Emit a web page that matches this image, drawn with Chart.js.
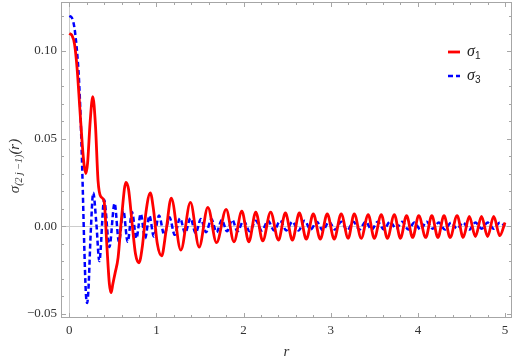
<!DOCTYPE html>
<html lang="en">
<head>
  <meta charset="UTF-8">
  <title>sigma (2j-1) plot</title>
  <script src="https://cdn.jsdelivr.net/npm/chart.js"></script>
  <style>body { margin: 0; background: #fff; }</style>
</head>
<body>
  <canvas id="myChart" width="515" height="361"></canvas>

  <script>
    // sigma_1 (red, solid)
    const r1 = [0, 0.03, 0.06, 0.09, 0.12, 0.15, 0.17, 0.19, 0.21, 0.24, 0.27, 0.30, 0.33, 0.36, 0.40,
      0.43, 0.46, 0.48, 0.50, 0.525, 0.56, 0.60, 0.65, 0.68, 0.72, 0.76, 0.80, 0.84, 0.88, 0.93,
      0.97, 1.01, 1.06, 1.11, 1.17, 1.28, 1.39, 1.49, 1.59, 1.69, 1.80, 1.89, 1.98, 2.06, 2.14,
      2.22, 2.31, 2.40, 2.48, 2.56, 2.64, 2.72, 2.80, 2.88, 2.96, 3.04, 3.12, 3.20, 3.27, 3.35,
      3.43, 3.50, 3.58, 3.65, 3.73, 3.80, 3.87, 3.94, 4.01, 4.09, 4.16, 4.23, 4.30, 4.37, 4.45,
      4.52, 4.59, 4.66, 4.73, 4.80, 4.87, 4.94, 5.00];
    const s1 = [0.110, 0.109, 0.104, 0.090, 0.068, 0.046, 0.035, 0.030, 0.036, 0.060, 0.074, 0.058, 0.026, 0.017, 0.014,
      -0.010, -0.033, -0.038, -0.033, -0.027, -0.018, 0.005, 0.025, 0.021, 0.002, -0.016, -0.021, -0.011, 0.008, 0.019,
      0.008, -0.010, -0.017, -0.003, 0.016, -0.0137, 0.0135, -0.012, 0.0107, -0.0095, 0.0095, -0.009, 0.0085, -0.009, 0.008,
      -0.0085, 0.008, -0.008, 0.0075, -0.008, 0.0075, -0.0075, 0.007, -0.0075, 0.007, -0.0075, 0.007, -0.007, 0.007, -0.007,
      0.0065, -0.007, 0.0065, -0.007, 0.0065, -0.007, 0.006, -0.0065, 0.006, -0.0065, 0.006, -0.0065, 0.006, -0.0065, 0.006,
      -0.0065, 0.0055, -0.006, 0.0055, -0.006, 0.0055, -0.0055, 0.002];

    // sigma_3 (blue, dashed)
    const r3 = [0, 0.03, 0.06, 0.09, 0.11, 0.13, 0.15, 0.17, 0.19, 0.205, 0.22, 0.245, 0.275, 0.31, 0.345,
      0.40, 0.46, 0.52, 0.57, 0.62, 0.67, 0.72, 0.77, 0.82, 0.87, 0.92, 0.97, 1.03, 1.09, 1.15,
      1.21, 1.27, 1.33, 1.39, 1.45, 1.51, 1.57, 1.63, 1.69, 1.75, 1.81, 1.87, 1.93, 2.00, 2.07,
      2.14, 2.21, 2.28, 2.35, 2.42, 2.49, 2.56, 2.63, 2.70, 2.77, 2.84, 2.91, 2.98, 3.05, 3.12,
      3.19, 3.26, 3.33, 3.40, 3.47, 3.54, 3.61, 3.68, 3.75, 3.82, 3.89, 3.96, 4.03, 4.10, 4.17,
      4.24, 4.31, 4.38, 4.45, 4.52, 4.59, 4.66, 4.73, 4.80, 4.87, 4.94, 5.00];
    const s3 = [0.120, 0.119, 0.113, 0.099, 0.085, 0.062, 0.030, -0.008, -0.038, -0.044, -0.036, -0.005, 0.019, 0.002, -0.020,
      0.015, -0.012, 0.013, -0.009, 0.009, -0.009, 0.008, -0.007, 0.007, -0.007, 0.006, -0.006, 0.006, -0.005, 0.005,
      -0.005, 0.0045, -0.004, 0.0045, -0.004, 0.004, -0.0035, 0.004, -0.0035, 0.0035, -0.003, 0.0035, -0.003, 0.003, -0.003,
      0.003, -0.0025, 0.003, -0.0025, 0.003, -0.0025, 0.0025, -0.0025, 0.003, -0.002, 0.0025, -0.0025, 0.0025, -0.002, 0.0025,
      -0.0025, 0.0025, -0.002, 0.0025, -0.002, 0.0025, -0.002, 0.0025, -0.0015, 0.0025, -0.002, 0.002, -0.002, 0.0025, -0.0015,
      0.002, -0.002, 0.002, -0.0015, 0.002, -0.002, 0.002, -0.0015, 0.002, -0.0015, 0.002, 0.000];

    const xTicks = [0, 1, 2, 3, 4, 5];
    const yTicks = [-0.05, 0, 0.05, 0.10];
    const seriesLabels = ['1', '3'];   // subscripts of sigma

    const frameColor = '#a6a6a6';
    const serif = '"Liberation Serif", "DejaVu Serif", serif';

    // minor tick positions (0.2 on x, 0.01 on y)
    const xMinor = [];
    for (let i = 0; i <= 25; i++) xMinor.push(i * 0.2);
    const yMinor = [];
    for (let i = -5; i <= 12; i++) yMinor.push(i * 0.01);

    const toPoints = (xs, ys) => xs.map((x, i) => ({ x: x, y: ys[i] }));

    // frame, inside ticks, zero lines, legend and y title (Mathematica look)
    const framePlugin = {
      id: 'frame',
      beforeDatasetsDraw(chart) {
        const { ctx, chartArea: a, scales } = chart;
        ctx.save();
        ctx.strokeStyle = '#cccccc';
        ctx.lineWidth = 1;
        const y0 = Math.round(scales.y.getPixelForValue(0)) + 0.5;
        const x0 = Math.round(scales.x.getPixelForValue(0)) + 0.5;
        ctx.beginPath();
        ctx.moveTo(a.left, y0); ctx.lineTo(a.right, y0);
        ctx.moveTo(x0, a.top); ctx.lineTo(x0, a.bottom);
        ctx.stroke();
        ctx.restore();
      },
      afterDatasetsDraw(chart) {
        const { ctx, chartArea: a, scales } = chart;
        ctx.save();
        ctx.strokeStyle = frameColor;
        ctx.lineWidth = 1;
        ctx.strokeRect(a.left + 0.5, a.top + 0.5, a.right - a.left - 1, a.bottom - a.top - 1);
        ctx.beginPath();
        xMinor.forEach(v => {
          const major = Math.abs(v - Math.round(v)) < 1e-6;
          const len = major ? 5 : 3;
          const px = Math.round(scales.x.getPixelForValue(v)) + 0.5;
          ctx.moveTo(px, a.bottom); ctx.lineTo(px, a.bottom - len);
          ctx.moveTo(px, a.top); ctx.lineTo(px, a.top + len);
        });
        yMinor.forEach(v => {
          const major = Math.abs(v * 20 - Math.round(v * 20)) < 1e-6;
          const len = major ? 5 : 3;
          const py = Math.round(scales.y.getPixelForValue(v)) + 0.5;
          if (py < a.top || py > a.bottom) return;
          ctx.moveTo(a.left, py); ctx.lineTo(a.left + len, py);
          ctx.moveTo(a.right, py); ctx.lineTo(a.right - len, py);
        });
        ctx.stroke();

        // legend
        chart.data.datasets.forEach((ds, i) => {
          const ly = 52 + i * 24;
          ctx.strokeStyle = ds.borderColor;
          ctx.lineWidth = ds.borderWidth;
          ctx.setLineDash(ds.borderDash || []);
          ctx.beginPath();
          ctx.moveTo(448, ly); ctx.lineTo(460, ly);
          ctx.stroke();
          ctx.setLineDash([]);
          ctx.fillStyle = '#222';
          ctx.textBaseline = 'alphabetic';
          ctx.font = 'italic 16px ' + serif;
          ctx.fillText('σ', 467, ly + 4);
          const w = ctx.measureText('σ').width;
          ctx.font = '10px "Liberation Sans", Arial, sans-serif';
          ctx.fillText(seriesLabels[i], 467 + w, ly + 7);
        });

        // y title: sigma_(2j-1)(r)
        ctx.translate(19, 166);
        ctx.rotate(-Math.PI / 2);
        const parts = [
          { t: 'σ', f: 'italic 15px ' + serif, dy: 0 },
          { t: '(2 j −1)', f: 'italic 10px ' + serif, dy: 3 },
          { t: '(r)', f: 'italic 15px ' + serif, dy: 0 }
        ];
        let total = 0;
        parts.forEach(p => { ctx.font = p.f; p.w = ctx.measureText(p.t).width; total += p.w; });
        let cx = -total / 2;
        ctx.fillStyle = '#333';
        parts.forEach(p => { ctx.font = p.f; ctx.fillText(p.t, cx, p.dy); cx += p.w; });
        ctx.restore();
      }
    };

    const ctx = document.getElementById('myChart').getContext('2d');
    new Chart(ctx, {
      type: 'line',
      data: {
        datasets: [{
          label: 'σ1',
          data: toPoints(r1, s1),
          borderColor: 'rgb(255, 0, 0)',
          borderWidth: 2.8,
          pointRadius: 0,
          cubicInterpolationMode: 'monotone',
          fill: false
        }, {
          label: 'σ3',
          data: toPoints(r3, s3),
          borderColor: 'rgb(0, 0, 255)',
          borderWidth: 2.5,
          borderDash: [5, 3],
          pointRadius: 0,
          cubicInterpolationMode: 'monotone',
          fill: false
        }]
      },
      options: {
        responsive: false,
        animation: false,
        layout: { padding: { top: 2, right: 3, left: 0, bottom: 0 } },
        plugins: { legend: { display: false }, tooltip: { enabled: false } },
        scales: {
          x: {
            type: 'linear',
            min: -0.095,
            max: 5.08,
            afterBuildTicks: axis => { axis.ticks = xTicks.map(v => ({ value: v })); },
            afterFit: axis => { axis.height = 43; axis.paddingLeft = 0; axis.paddingRight = 0; },
            grid: { display: false, drawTicks: false },
            border: { display: false },
            ticks: {
              padding: 5,
              maxRotation: 0,
              color: '#333',
              font: { family: serif, size: 13 },
              callback: v => String(v)
            },
            title: {
              display: true,
              text: 'r',
              color: '#333',
              font: { family: serif, size: 15, style: 'italic' },
              padding: { top: 0, bottom: 0 }
            }
          },
          y: {
            min: -0.0525,
            max: 0.128,
            afterBuildTicks: axis => { axis.ticks = yTicks.map(v => ({ value: v })); },
            afterFit: axis => { axis.width = 61; axis.paddingTop = 0; axis.paddingBottom = 0; },
            grid: { display: false, drawTicks: false },
            border: { display: false },
            ticks: {
              padding: 4,
              color: '#333',
              font: { family: serif, size: 13 },
              callback: v => (v < 0 ? '−' : '') + Math.abs(v).toFixed(2)
            }
          }
        }
      },
      plugins: [framePlugin]
    });
  </script>
</body>
</html>
